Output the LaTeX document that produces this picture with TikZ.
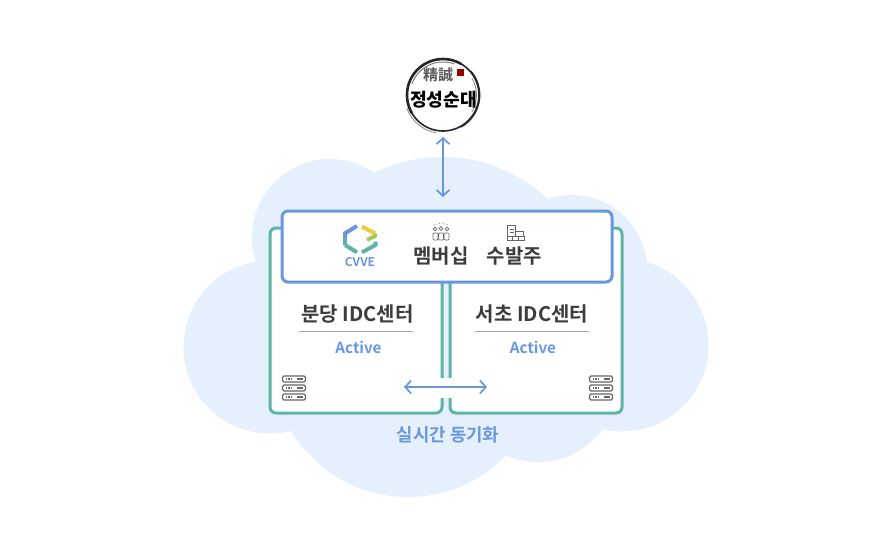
\documentclass[tikz,border=0pt]{standalone}
\usepackage{fontspec}
\setmainfont{Noto Sans CJK KR}[BoldFont={* Bold}]
\newfontfamily\cjkbrush{Noto Sans CJK KR Black}
\usetikzlibrary{positioning,arrows.meta,calc}
\definecolor{cloudblue}{HTML}{E6EFFC}
\definecolor{linkblue}{HTML}{6797DF}
\definecolor{idcgreen}{HTML}{5DB6A5}
\definecolor{darktext}{HTML}{3C3C3C}
\definecolor{icongrey}{HTML}{666666}
\definecolor{logoyellow}{HTML}{EFCB3C}
\definecolor{logolime}{HTML}{A5C85A}
\tikzset{
	idcbox/.style={draw=idcgreen, line width=3pt, fill=white, rounded corners=6pt, minimum width=172pt, minimum height=185pt, inner sep=0pt},
	platformbox/.style={draw=linkblue, line width=3pt, fill=white, rounded corners=6pt, minimum width=330pt, minimum height=71pt, inner sep=0pt},
	linkarrow/.style={linkblue, line width=1.7pt, {Straight Barb[length=6pt,width=13pt]}-{Straight Barb[length=6pt,width=13pt]}},
	bigtext/.style={text=darktext, font=\fontsize{20}{22}\selectfont\bfseries, inner sep=0pt},
	activetext/.style={text=linkblue, font=\fontsize{15.2}{16}\selectfont\bfseries, inner sep=0pt},
	rackbar/.style={draw=icongrey, line width=1.2pt, rounded corners=1.5pt, minimum width=23pt, minimum height=6pt, inner sep=0pt},
	iconline/.style={draw=icongrey, line width=.7pt},
	brush/.style={black!85, line cap=round},
}
\begin{document}
\begin{tikzpicture}[x=1pt, y=-1pt]
	\useasboundingbox (0,0) rectangle (875,535);
	% cloud
	\fill[white] (0,0) rectangle (875,535);
	\fill[cloudblue] (330,237) circle (78);
	\fill[cloudblue] (442,311) circle (154);
	\fill[cloudblue] (572,270) circle (75);
	\fill[cloudblue] (270,347) circle (86.5);
	\fill[cloudblue] (622,345) circle (86.5);
	\fill[cloudblue] (408,361) circle (136);
	\fill[cloudblue] (538,382) circle (80);
	\fill[cloudblue] (450,320) circle (140);

	% idc boxes and platform
	\node[idcbox] (idcleft) at (356,320.5) {};
	\node[idcbox] (idcright) at (536,320.5) {};
	\fill[white] (440,378) rectangle (452,398);
	\node[platformbox] (platform) at (447,246.5) {};

	% logo
	\node[circle, draw=black!85, line width=1.6pt, minimum size=72pt, inner sep=0pt] (logo) at (443,95) {};
	\draw[brush, line width=2.6pt] (443,95) ++(150:36) arc (150:300:36);
	\draw[brush, line width=1.8pt] (443,95) ++(-40:36.5) arc (-40:60:36.5);
	\draw[black!50, line width=1pt] (443,95) ++(200:33) arc (200:290:33);
	\draw[black!45, line width=.8pt] (443,95) ++(-30:33.5) arc (-30:30:33.5);
	\draw[black!40, line width=1pt] (443,95) ++(100:38.5) arc (100:160:38.5);
	\node[inner sep=0pt, font=\cjkbrush\fontsize{18.2}{19}\selectfont, text=black] (logoname) at (443.5,100) {정성순대};
	\node[inner sep=0pt, font=\fontsize{15}{16}\selectfont\bfseries, text=black!65] (logohanja) at (438,75) {精誠};
	\node[fill=red!60!black, minimum size=7pt, inner sep=0pt] (logoseal) at (460.5,72.5) {};

	% top arrow
	\coordinate (logoend) at (443,137);
	\coordinate (platend) at (443,197);
	\draw[linkarrow] (logoend) -- (platend);

	% platform contents
	\begin{scope}[line width=4pt]
		\draw[linkblue] (357,226) -- (345,233.3) -- (345,238);
		\draw[linkblue!50!idcgreen] (345,238) -- (345,245);
		\draw[idcgreen] (345,245) -- (357,252.3);
		\draw[idcgreen] (362,252.3) -- (375.5,245) -- (375.5,241.5);
		\draw[logoyellow] (362,226.7) -- (375,233.3);
		\draw[logolime] (375,233.3) -- (375,236) -- (367,240);
	\end{scope}
	\node[inner sep=0pt, text=linkblue, font=\fontsize{12}{13}\selectfont\bfseries] (cvve) at (360,262) {CVVE};

	\node[bigtext] (member) at (441,256) {멤버십};
	\node[bigtext] (order) at (514.5,256) {수발주};

	% member icon
	\foreach \px/\py in {435/229, 441/228.5, 447/229} {
		\draw[iconline] (\px,\py) circle (1.8);
	}
	\foreach \bx in {433, 438.5, 444} {
		\draw[iconline, rounded corners=1pt] (\bx,240) rectangle (\bx+5,233);
	}
	\draw[icongrey, line width=.7pt, dotted] (434,225) -- (441,223) -- (448,225);
	% order icon
	\draw[iconline] (507.5,236.5) rectangle (515.5,225.5);
	\draw[iconline] (509.5,229) -- (513.5,229) (509.5,232) -- (513.5,232);
	\draw[iconline] (515.5,236.5) rectangle (523.5,231);
	\draw[iconline] (507,240) rectangle (524,236.5);
	\draw[iconline] (512.5,236.5) -- (512.5,240) (518,236.5) -- (518,240);

	% idc labels
	\node[bigtext] (bundang) at (357.5,314.5) {분당 IDC센터};
	\node[bigtext] (seocho) at (532,314.5) {서초 IDC센터};
	\draw[black!35, line width=.7pt] (299,331.5) -- (413,331.5);
	\draw[black!35, line width=.7pt] (475,331.5) -- (589,331.5);
	\node[activetext] (activeleft) at (358.5,347) {Active};
	\node[activetext] (activeright) at (533,347) {Active};

	% server icons
	\foreach \sx in {294, 601} {
		\foreach \sy in {379, 388, 397} {
			\node[rackbar] (rack\sx\sy) at (\sx,\sy) {};
			\draw[icongrey, line width=1.2pt, dash pattern=on 1.2pt off 1.2pt] (\sx-8,\sy) -- (\sx-1,\sy);
			\draw[icongrey, line width=1.2pt] (\sx+3,\sy) -- (\sx+9,\sy);
		}
	}

	% sync arrow
	\coordinate (syncleft) at (404,387);
	\coordinate (syncright) at (487,387);
	\draw[linkarrow] (syncleft) -- (syncright);
	\node[inner sep=0pt, text=linkblue, font=\fontsize{17.8}{19}\selectfont\bfseries] (synclabel) at (448,435) {실시간 동기화};
\end{tikzpicture}
\end{document}
